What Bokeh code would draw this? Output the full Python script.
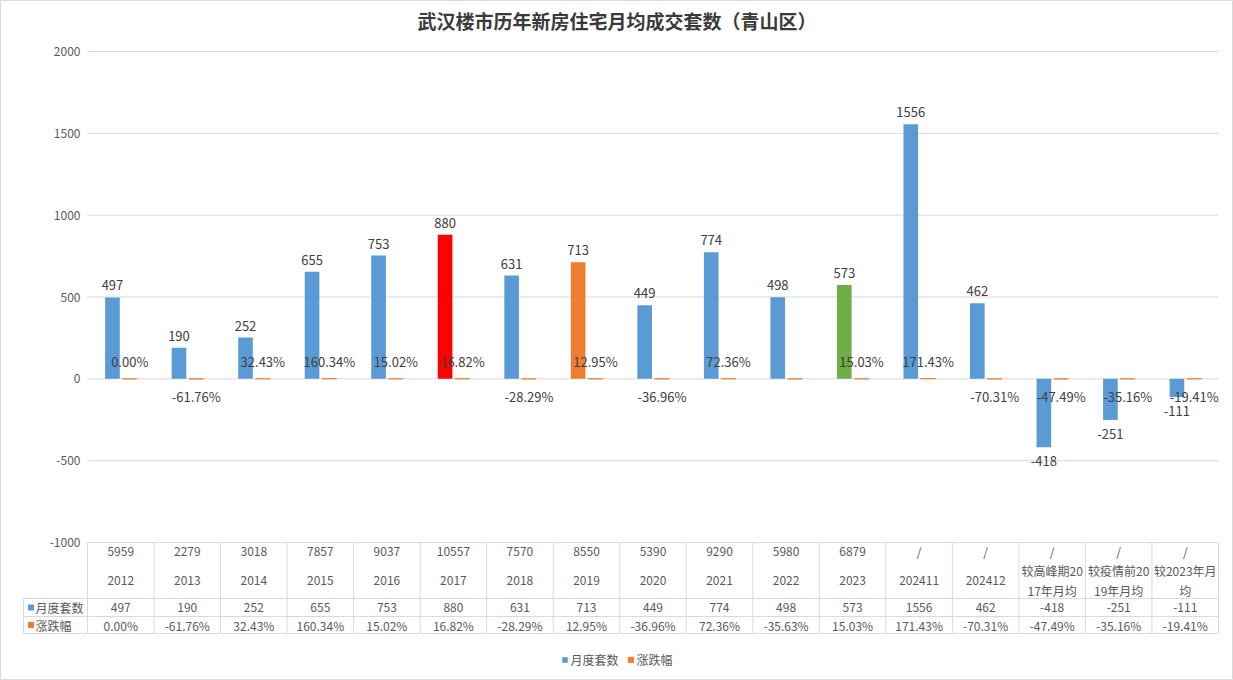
from bokeh.plotting import figure
from bokeh.models import Range1d, Legend, LegendItem, ColumnDataSource
from bokeh.core.properties import value
from bokeh.embed import file_html
from bokeh.resources import INLINE

# ---------------- data ----------------
title_text = "武汉楼市历年新房住宅月均成交套数（青山区）"
categories = ["2012", "2013", "2014", "2015", "2016", "2017", "2018", "2019", "2020",
              "2021", "2022", "2023", "202411", "202412",
              "较高峰期2017年月均", "较疫情前2019年月均", "较2023年月均"]
category_labels = ["2012", "2013", "2014", "2015", "2016", "2017", "2018", "2019", "2020",
                   "2021", "2022", "2023", "202411", "202412",
                   "较高峰期20\n17年月均", "较疫情前20\n19年月均", "较2023年月\n均"]
year_totals = ["5959", "2279", "3018", "7857", "9037", "10557", "7570", "8550", "5390",
               "9290", "5980", "6879", "/", "/", "/", "/", "/"]
monthly = [497, 190, 252, 655, 753, 880, 631, 713, 449, 774, 498, 573, 1556, 462, -418, -251, -111]
change_pct = [0.00, -61.76, 32.43, 160.34, 15.02, 16.82, -28.29, 12.95, -36.96, 72.36,
              -35.63, 15.03, 171.43, -70.31, -47.49, -35.16, -19.41]
series_names = ["月度套数", "涨跌幅"]
y_ticks = [2000, 1500, 1000, 500, 0, -500, -1000]

# ---------------- style ----------------
BLUE, ORANGE, RED, GREEN = "#5B9BD5", "#ED7D31", "#FF0000", "#70AD47"
bar_colors = [BLUE] * len(categories)
bar_colors[5] = RED
bar_colors[7] = ORANGE
bar_colors[11] = GREEN
GRID = "#d9d9d9"
TXT = "#595959"
LBL = "#404040"
FONT = value("Noto Sans CJK SC")

# ---------------- layout helpers (pixels -> data) ----------------
W, H = 1233, 680
PLOT_L, PLOT_R = 87, 1218
Y_TOP_PX, Y_BOT_PX = 51, 542
n = len(categories)
col_w = (PLOT_R - PLOT_L) / n
ppu = (Y_BOT_PX - Y_TOP_PX) / (y_ticks[0] - y_ticks[-1])
zero_px = Y_TOP_PX + y_ticks[0] * ppu


def xd(px):
    return (px - PLOT_L) / col_w - 0.5


def yd(py):
    return (zero_px - py) / ppu


p = figure(width=W, height=H, x_range=Range1d(xd(0), xd(W)), y_range=Range1d(yd(H), yd(0)),
           output_backend="svg", toolbar_location=None, x_axis_location=None,
           y_axis_location=None, min_border=0)
p.grid.visible = False
p.outline_line_color = GRID
p.background_fill_color = "white"
p.border_fill_color = "white"

# gridlines
p.segment(x0=[-0.5] * len(y_ticks), x1=[n - 0.5] * len(y_ticks), y0=y_ticks, y1=y_ticks,
          line_color=GRID, line_width=1)
# y tick labels
p.text(x=[xd(80)] * len(y_ticks), y=y_ticks, text=[str(t) for t in y_ticks],
       text_align="right", text_baseline="middle", text_font=FONT,
       text_font_size="12px", text_color=TXT)

# bars
idx = list(range(n))
bw = 0.22
off_b, off_o = -0.125, 0.135
src_b = ColumnDataSource(dict(x=[i + off_b for i in idx], top=monthly, color=bar_colors,
                              lab=[str(v) for v in monthly]))
change_vals = [v / 100 for v in change_pct]
src_o = ColumnDataSource(dict(x=[i + off_o for i in idx], top=change_vals))
rb = p.vbar(x="x", top="top", bottom=0, width=bw, fill_color="color", line_color=None, source=src_b)
ro = p.vbar(x="x", top="top", bottom=0, width=bw, fill_color=ORANGE, line_color=ORANGE,
            line_width=1, line_alpha=0.8, source=src_o)

# value labels for blue bars
pos = [i for i in idx if monthly[i] >= 0]
neg = [i for i in idx if monthly[i] < 0]
p.text(x=[i + off_b for i in pos], y=[monthly[i] for i in pos], text=[str(monthly[i]) for i in pos],
       text_align="center", text_baseline="bottom", y_offset=-7, text_font=FONT,
       text_font_size="13px", text_color=LBL)
p.text(x=[i + off_b for i in neg], y=[monthly[i] for i in neg], text=[str(monthly[i]) for i in neg],
       text_align="center", text_baseline="top", y_offset=9, text_font=FONT,
       text_font_size="13px", text_color=LBL)

# value labels for change series (label for 2022 is not shown in the original)
hidden = {10}
cpos = [i for i in idx if change_pct[i] >= 0 and i not in hidden]
cneg = [i for i in idx if change_pct[i] < 0 and i not in hidden]
p.text(x=[i + off_o for i in cpos], y=[change_vals[i] for i in cpos],
       text=[f"{change_pct[i]:.2f}%" for i in cpos], text_align="center", text_baseline="bottom",
       y_offset=-8, text_font=FONT, text_font_size="13px", text_color=LBL)
p.text(x=[i + off_o for i in cneg], y=[change_vals[i] for i in cneg],
       text=[f"{change_pct[i]:.2f}%" for i in cneg], text_align="center", text_baseline="top",
       y_offset=8, text_font=FONT, text_font_size="13px", text_color=LBL)

# ---------------- data table ----------------
t_top = y_ticks[-1]
r1, r2, r3 = yd(598), yd(616), yd(633)
x_left = xd(23)
p.segment(x0=[i - 0.5 for i in range(n + 1)], x1=[i - 0.5 for i in range(n + 1)],
          y0=[t_top] * (n + 1), y1=[r3] * (n + 1), line_color=GRID, line_width=1)
p.segment(x0=[x_left] * 3, x1=[n - 0.5] * 3, y0=[r1, r2, r3], y1=[r1, r2, r3],
          line_color=GRID, line_width=1)
p.segment(x0=[x_left], x1=[x_left], y0=[r1], y1=[r3], line_color=GRID, line_width=1)

p.text(x=idx, y=[yd(551)] * n, text=year_totals, text_align="center", text_baseline="middle",
       text_font=FONT, text_font_size="12px", text_color=TXT)
p.text(x=idx, y=[yd(580)] * n, text=category_labels, text_align="center", text_baseline="middle",
       text_font=FONT, text_font_size="12px", text_color=TXT, text_line_height=1.15)
p.text(x=idx, y=[yd(607)] * n, text=[str(v) for v in monthly], text_align="center",
       text_baseline="middle", text_font=FONT, text_font_size="12px", text_color=TXT)
p.text(x=idx, y=[yd(624.5)] * n, text=[f"{v:.2f}%" for v in change_pct], text_align="center",
       text_baseline="middle", text_font=FONT, text_font_size="12px", text_color=TXT)

# row headers
p.scatter(x=[xd(30.5)] * 2, y=[yd(607), yd(624.5)], marker="square", size=6,
          fill_color=[BLUE, ORANGE], line_color=None)
p.text(x=[xd(35)] * 2, y=[yd(607), yd(624.5)], text=series_names, text_align="left",
       text_baseline="middle", text_font=FONT, text_font_size="12px", text_color=TXT)

# title
p.text(x=[xd(W / 2)], y=[yd(20)], text=[title_text], text_align="center", text_baseline="middle",
       text_font=FONT, text_font_size="19px", text_font_style="bold", text_color="#3a3a3a")

# legend
legend = Legend(items=[LegendItem(label=series_names[0], renderers=[rb], index=0),
                       LegendItem(label=series_names[1], renderers=[ro])],
                orientation="horizontal", location="bottom_center", margin=12, padding=12,
                glyph_width=7, glyph_height=7, label_standoff=3, spacing=8,
                border_line_color=None, background_fill_alpha=0,
                label_text_font="Noto Sans CJK SC", label_text_font_size="12px",
                label_text_color=TXT)
p.add_layout(legend)

open("out.html", "w").write(file_html(p, INLINE))
